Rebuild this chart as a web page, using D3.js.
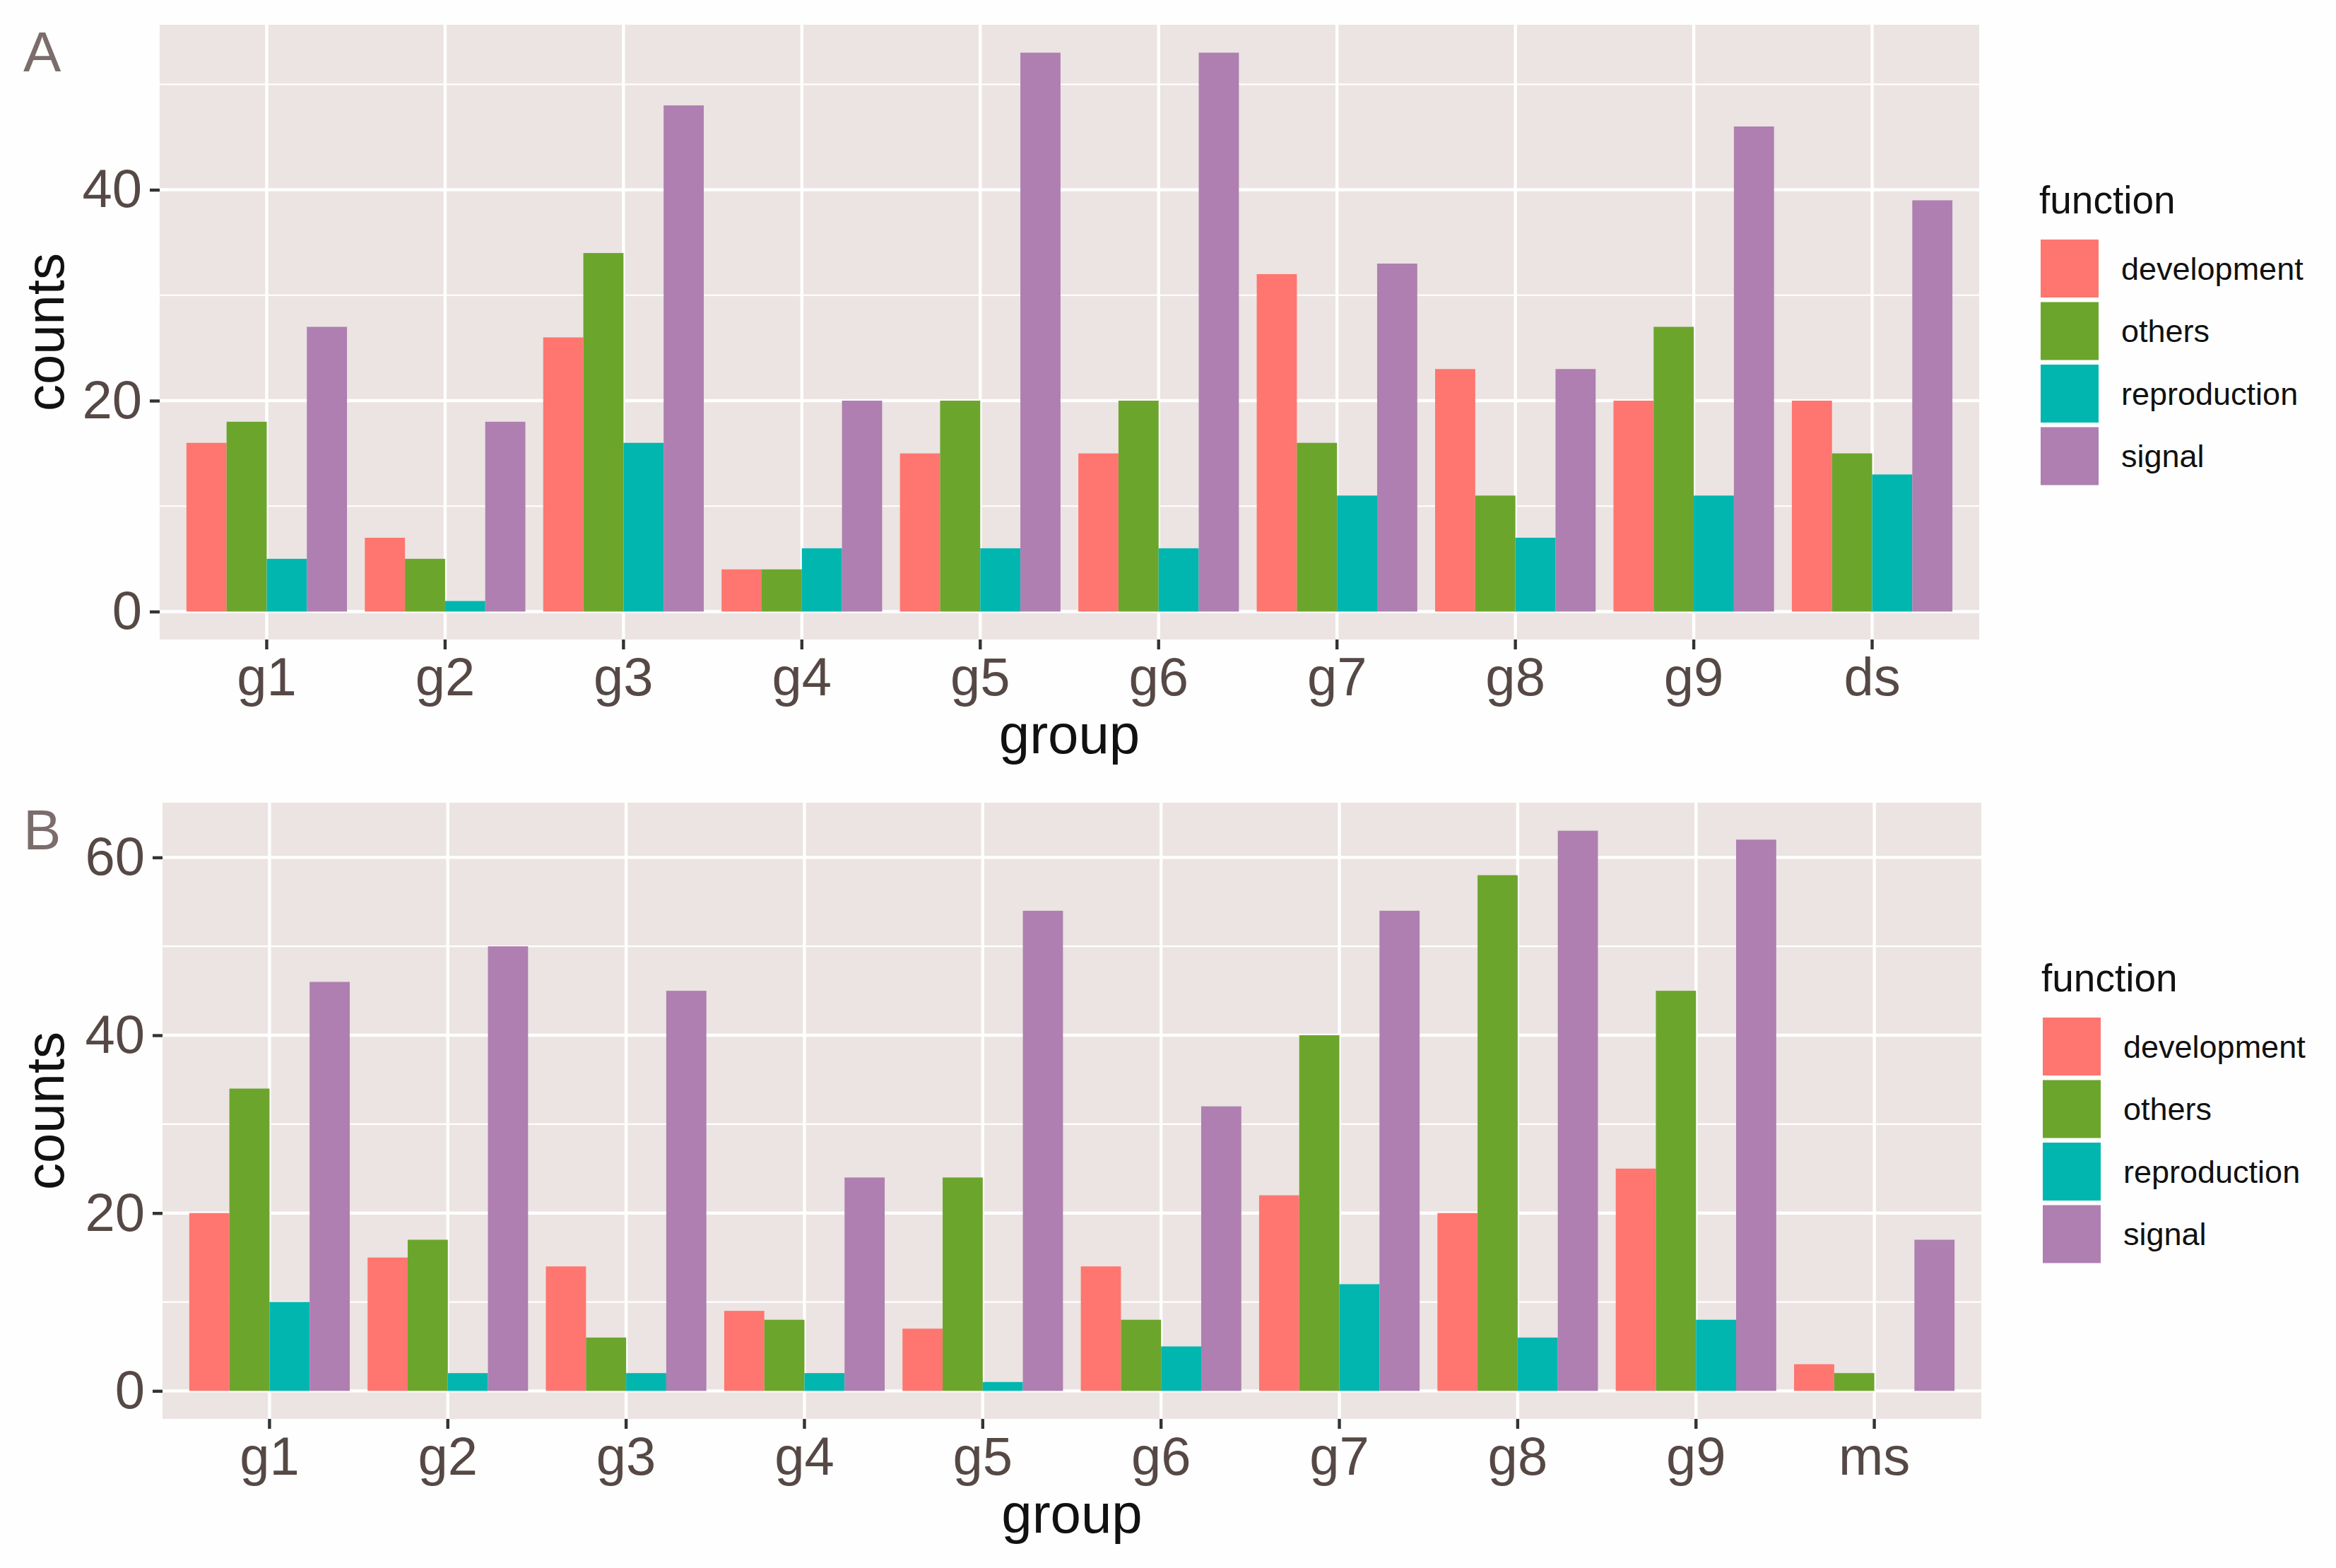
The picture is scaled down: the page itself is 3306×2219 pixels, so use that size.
<!DOCTYPE html>
<html>
<head>
<meta charset="utf-8">
<script src="https://cdn.jsdelivr.net/npm/d3@7"></script>
<style>
  body { margin: 0; background: #fefefe; }
  text { font-family: "Liberation Sans", Arial, sans-serif; }
</style>
</head>
<body>
<svg id="chart" width="3306" height="2219"></svg>
<script>
// dados
const functions = ["development", "others", "reproduction", "signal"];
const colors = ["#fe766f", "#6ca52c", "#00b6af", "#ae7fb0"];

const groupsA = ["g1", "g2", "g3", "g4", "g5", "g6", "g7", "g8", "g9", "ds"];
const developmentA = [16, 7, 26, 4, 15, 15, 32, 23, 20, 20];
const othersA = [18, 5, 34, 4, 20, 20, 16, 11, 27, 15];
const reproductionA = [5, 1, 16, 6, 6, 6, 11, 7, 11, 13];
const signalA = [27, 18, 48, 20, 53, 53, 33, 23, 46, 39];
const ticksA = [0, 20, 40];
const minorA = [10, 30, 50];

const groupsB = ["g1", "g2", "g3", "g4", "g5", "g6", "g7", "g8", "g9", "ms"];
const developmentB = [20, 15, 14, 9, 7, 14, 22, 20, 25, 3];
const othersB = [34, 17, 6, 8, 24, 8, 40, 58, 45, 2];
const reproductionB = [10, 2, 2, 2, 1, 5, 12, 6, 8, 0];
const signalB = [46, 50, 45, 24, 54, 32, 54, 63, 62, 17];
const ticksB = [0, 20, 40, 60];
const minorB = [10, 30, 50];

const svg = d3.select("#chart");

// desenha um painel
const panel = (opt) => {
    const { letter, groups, series, ticks, minor, left, right, top, bottom } = opt;

    // tabela longa: uma linha por barra
    const rows = [];
    groups.forEach((g, i) => {
        functions.forEach((f, j) => {
            rows.push({ group: g, fn: f, value: series[j][i] });
        });
    });

    const maxV = d3.max(rows, d => d.value);
    const y = d3.scaleLinear()
        .domain([-0.05 * maxV, 1.05 * maxV])
        .range([bottom, top]);

    const x = d3.scaleBand()
        .domain(groups)
        .range([left, right])
        .paddingInner(0.1)
        .paddingOuter(0.15);

    const xs = d3.scaleBand()
        .domain(functions)
        .range([0, x.bandwidth()]);

    const color = d3.scaleOrdinal().domain(functions).range(colors);

    const g = svg.append("g");

    // fundo do painel
    g.append("rect")
        .attr("x", left).attr("y", top)
        .attr("width", right - left).attr("height", bottom - top)
        .attr("fill", "#ebe4e2");

    // grade menor
    g.selectAll(".minor").data(minor).enter().append("line")
        .attr("x1", left).attr("x2", right)
        .attr("y1", d => y(d)).attr("y2", d => y(d))
        .attr("stroke", "#ffffff").attr("stroke-width", 2.2);

    // grade maior
    g.selectAll(".hmajor").data(ticks).enter().append("line")
        .attr("x1", left).attr("x2", right)
        .attr("y1", d => y(d)).attr("y2", d => y(d))
        .attr("stroke", "#ffffff").attr("stroke-width", 4.4);

    g.selectAll(".vmajor").data(groups).enter().append("line")
        .attr("x1", d => x(d) + x.bandwidth() / 2).attr("x2", d => x(d) + x.bandwidth() / 2)
        .attr("y1", top).attr("y2", bottom)
        .attr("stroke", "#ffffff").attr("stroke-width", 4.4);

    // barras
    g.selectAll(".bar").data(rows).enter().append("rect")
        .attr("x", d => x(d.group) + xs(d.fn))
        .attr("y", d => y(d.value))
        .attr("width", xs.bandwidth())
        .attr("height", d => y(0) - y(d.value))
        .attr("fill", d => color(d.fn));

    // eixos
    const yAxis = g.append("g")
        .attr("transform", `translate(${left},0)`)
        .call(d3.axisLeft(y).tickValues(ticks).tickSize(14).tickPadding(11));

    const xAxis = g.append("g")
        .attr("transform", `translate(0,${bottom})`)
        .call(d3.axisBottom(x).tickSize(14).tickPadding(11));

    [yAxis, xAxis].forEach(a => {
        a.select(".domain").remove();
        a.selectAll(".tick line").attr("stroke", "#333333").attr("stroke-width", 4.4);
        a.selectAll(".tick text")
            .attr("fill", "#554845")
            .style("font-size", "76px")
            .style("font-family", "'Liberation Sans', Arial, sans-serif");
    });

    // títulos dos eixos
    g.append("text")
        .attr("x", (left + right) / 2)
        .attr("y", bottom + 161)
        .attr("text-anchor", "middle")
        .attr("fill", "#111111")
        .style("font-size", "78px")
        .text("group");

    g.append("text")
        .attr("transform", `translate(90,${(top + bottom) / 2}) rotate(-90)`)
        .attr("text-anchor", "middle")
        .attr("fill", "#111111")
        .style("font-size", "76px")
        .text("counts");

    // letra do painel
    g.append("text")
        .attr("x", 33)
        .attr("y", top + 66)
        .attr("fill", "#7b6d6b")
        .style("font-size", "80px")
        .text(letter);

    // legenda
    const lx = right + 87;
    const leg = g.append("g");
    leg.append("text")
        .attr("x", lx - 2)
        .attr("y", top + 267)
        .attr("fill", "#111111")
        .style("font-size", "55px")
        .text("function");

    const item = leg.selectAll(".item").data(functions).enter().append("g")
        .attr("transform", (d, i) => `translate(${lx},${top + 304 + i * 88.5})`);

    item.append("rect")
        .attr("width", 82).attr("height", 82)
        .attr("fill", d => color(d));

    item.append("text")
        .attr("x", 114)
        .attr("y", 41)
        .attr("dy", "0.35em")
        .attr("fill", "#111111")
        .style("font-size", "45px")
        .text(d => d);
};

panel({
    letter: "A",
    groups: groupsA,
    series: [developmentA, othersA, reproductionA, signalA],
    ticks: ticksA,
    minor: minorA,
    left: 226, right: 2801, top: 35, bottom: 905
});

panel({
    letter: "B",
    groups: groupsB,
    series: [developmentB, othersB, reproductionB, signalB],
    ticks: ticksB,
    minor: minorB,
    left: 230, right: 2804, top: 1136, bottom: 2008
});
</script>
</body>
</html>
